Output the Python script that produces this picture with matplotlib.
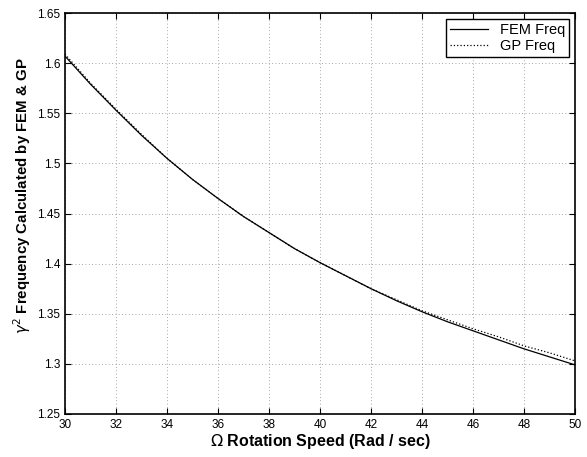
import numpy as np
import matplotlib
matplotlib.use("Agg")
import matplotlib.pyplot as plt

# velocidad de rotación (rad/s)
omega = [30, 31, 32, 33, 34, 35, 36, 37, 38, 39, 40,
         41, 42, 43, 44, 45, 46, 47, 48, 49, 50]

# frecuencia FEM y GP
fem_freq = [1.607, 1.579, 1.553, 1.528, 1.505, 1.484, 1.465, 1.447, 1.431, 1.415, 1.401,
            1.388, 1.375, 1.363, 1.352, 1.342, 1.333, 1.324, 1.315, 1.307, 1.299]
gp_freq = [1.609, 1.580, 1.554, 1.529, 1.505, 1.484, 1.465, 1.447, 1.431, 1.415, 1.401,
           1.388, 1.375, 1.364, 1.353, 1.344, 1.335, 1.327, 1.318, 1.311, 1.303]

xticks = [30, 32, 34, 36, 38, 40, 42, 44, 46, 48, 50]
yticks = [1.25, 1.3, 1.35, 1.4, 1.45, 1.5, 1.55, 1.6, 1.65]

plt.rcParams["font.family"] = ["Liberation Sans", "DejaVu Sans"]
plt.rcParams["mathtext.fontset"] = "dejavusans"

fig = plt.figure(figsize=(5.87, 4.57), dpi=100)
ax = fig.add_axes([65 / 587, 1 - 414 / 457, 510 / 587, 401 / 457])

ax.plot(omega, fem_freq, color="black", linewidth=0.9, label="FEM Freq")
ax.plot(omega, gp_freq, color="black", linewidth=0.9, linestyle=":", label="GP Freq")

ax.set_xlim(30, 50)
ax.set_ylim(1.25, 1.65)
ax.set_xticks(xticks)
ax.set_yticks(yticks)
ax.set_yticklabels([f"{v:g}" for v in yticks])

ax.tick_params(direction="in", top=True, right=True, labelsize=8.5, length=4, width=0.8)
ax.grid(True, linestyle=(0, (1, 3)), linewidth=0.6, color="#888888")

for spine in ax.spines.values():
    spine.set_linewidth(1.2)

ax.set_xlabel(r"$\Omega$ Rotation Speed (Rad / sec)", fontsize=11.5, fontweight="bold", labelpad=1)
ax.set_ylabel(r"$\gamma^2$ Frequency Calculated by FEM & GP", fontsize=10.8, fontweight="bold")
ax.yaxis.set_label_coords(-0.062, 0.545)

leg = ax.legend(loc="upper right", fancybox=False, framealpha=1, edgecolor="black",
                fontsize=10.5, borderaxespad=0.4, handlelength=2.6, borderpad=0.3,
                labelspacing=0.1)
leg.get_frame().set_linewidth(1.0)

fig.savefig("out.png", dpi=100)
